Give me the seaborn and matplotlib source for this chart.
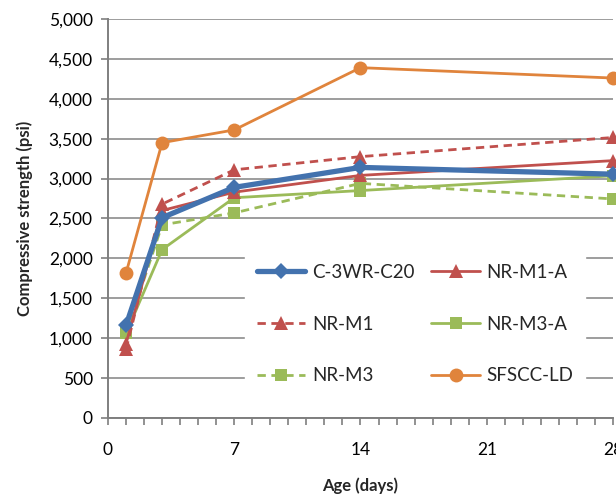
import matplotlib
matplotlib.use("Agg")
import matplotlib.pyplot as plt
from matplotlib.ticker import FuncFormatter, MultipleLocator
import seaborn as sns
import pandas as pd

sns.set_theme(style="white")
plt.rcParams["font.family"] = ["Lato", "DejaVu Sans"]

# Test ages (days) and strengths (psi) per mix
ages = [1, 3, 7, 14, 28]
c3wr_c20 = [1160, 2510, 2890, 3140, 3055]
nr_m1_a = [930, 2600, 2830, 3040, 3225]
nr_m1 = [860, 2680, 3110, 3275, 3515]
nr_m3_a = [1060, 2110, 2760, 2850, 3035]
nr_m3 = [1060, 2420, 2570, 2940, 2745]
sfscc_ld = [1815, 3450, 3610, 4390, 4260]

mixes = ["C-3WR-C20", "NR-M1-A", "NR-M1", "NR-M3-A", "NR-M3", "SFSCC-LD"]
values = [c3wr_c20, nr_m1_a, nr_m1, nr_m3_a, nr_m3, sfscc_ld]

df = pd.DataFrame(
    [(m, a, v) for m, vals in zip(mixes, values) for a, v in zip(ages, vals)],
    columns=["mix", "age", "strength"],
)

blue = "#4372AE"
red = "#C0504D"
green = "#9BBB59"
orange = "#E0843C"

styles = {
    "C-3WR-C20": dict(color=blue, marker="D", ls="-", lw=3.8, ms=8),
    "NR-M1-A": dict(color=red, marker="^", ls="-", lw=2.0, ms=10),
    "NR-M1": dict(color=red, marker="^", ls=(0, (3, 2)), lw=2.0, ms=10),
    "NR-M3-A": dict(color=green, marker="s", ls="-", lw=2.0, ms=9),
    "NR-M3": dict(color=green, marker="s", ls=(0, (3, 2)), lw=2.0, ms=9),
    "SFSCC-LD": dict(color=orange, marker="o", ls="-", lw=2.0, ms=10),
}

fig = plt.figure(figsize=(6.16, 4.97), dpi=100)
ax = fig.add_axes([0.1753, 0.159, 0.8198, 0.8028])

order = ["SFSCC-LD", "NR-M3", "NR-M3-A", "NR-M1", "NR-M1-A", "C-3WR-C20"]
handles = {}
for m in order:
    st = styles[m]
    sub = df[df["mix"] == m]
    sns.lineplot(data=sub, x="age", y="strength", ax=ax, color=st["color"],
                 marker=st["marker"], markersize=st["ms"], linewidth=st["lw"],
                 markeredgewidth=0, markerfacecolor=st["color"], legend=False,
                 clip_on=False, zorder=3)
    line = ax.lines[-1]
    line.set_linestyle(st["ls"])
    handles[m] = line

ax.set_xlim(0, 28)
ax.set_ylim(0, 5000)
ax.xaxis.set_major_locator(MultipleLocator(7))
ax.xaxis.set_minor_locator(MultipleLocator(1))
ax.yaxis.set_major_locator(MultipleLocator(500))
ax.yaxis.set_major_formatter(FuncFormatter(lambda v, p: f"{int(v):,}"))

ax.grid(axis="y", color="#8C8C8C", lw=1.2)
ax.set_axisbelow(True)
for s in ["top", "right"]:
    ax.spines[s].set_visible(False)
for s in ["left", "bottom"]:
    ax.spines[s].set_color("#7F7F7F")
    ax.spines[s].set_linewidth(1.4)

ax.tick_params(axis="both", which="major", direction="out", length=5,
               width=1.2, color="#7F7F7F", labelsize=12.5, labelcolor="black",
               bottom=True, left=True)
ax.tick_params(axis="x", which="minor", direction="out", length=5,
               width=1.2, color="#7F7F7F", bottom=True)
ax.tick_params(axis="x", which="major", pad=12)
ax.tick_params(axis="y", which="major", pad=6)

ax.set_xlabel("Age (days)", fontsize=12, fontweight="bold", labelpad=14)
ax.set_ylabel("Compressive strength (psi)", fontsize=12, fontweight="bold",
              labelpad=11)

leg_order = ["C-3WR-C20", "NR-M1", "NR-M3", "NR-M1-A", "NR-M3-A", "SFSCC-LD"]
leg = ax.legend([handles[m] for m in leg_order], leg_order, ncol=2,
                loc="center", bbox_to_anchor=(0.608, 0.235),
                frameon=True, facecolor="white", edgecolor="white",
                fontsize=13.5, handlelength=2.6, handletextpad=0.35,
                labelspacing=1.85, columnspacing=0.9, borderpad=0.6,
                fancybox=False, framealpha=1)
leg.set_zorder(5)

fig.savefig("out.png", dpi=100)
